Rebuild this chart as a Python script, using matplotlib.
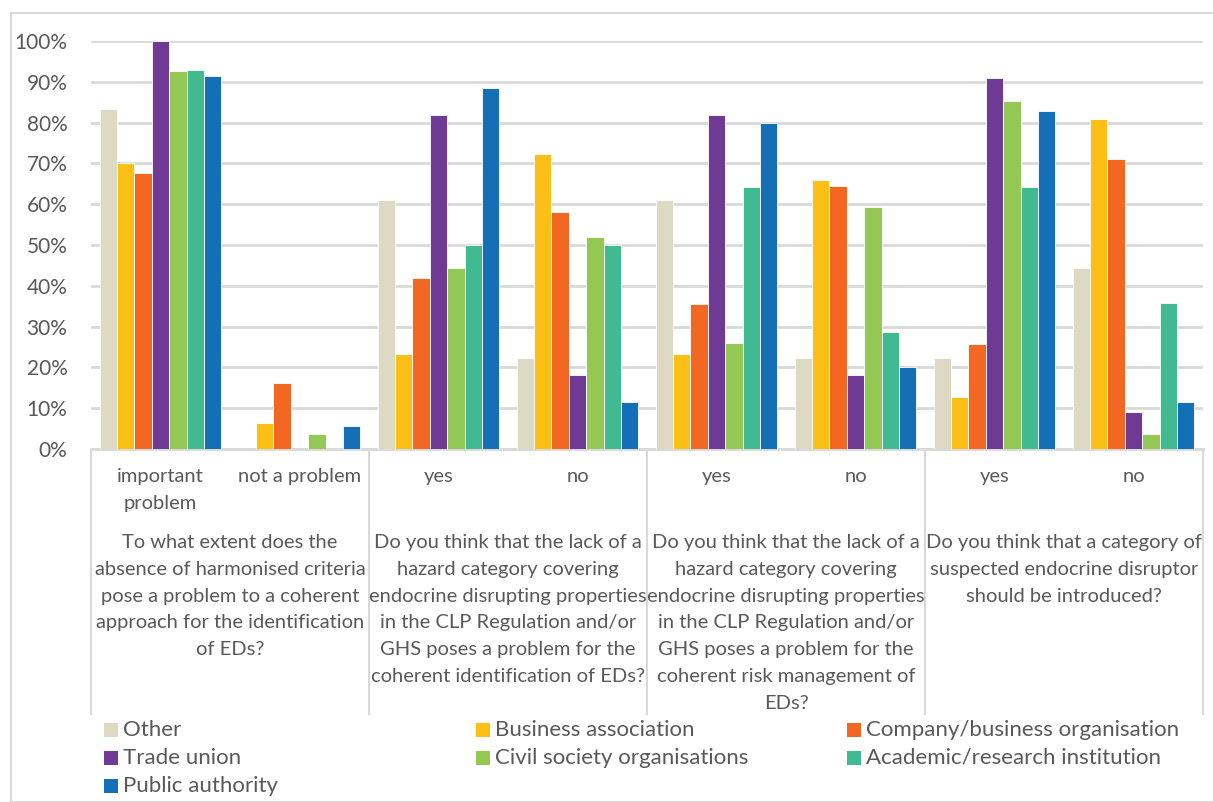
import matplotlib
matplotlib.use("Agg")
import matplotlib.pyplot as plt
import matplotlib.transforms as mtransforms
from matplotlib.patches import Rectangle
from matplotlib.lines import Line2D
import numpy as np

plt.rcParams['font.family'] = ['Lato', 'DejaVu Sans']

# Respondent groups (series)
series = ["Other", "Business association", "Company/business organisation",
          "Trade union", "Civil society organisations",
          "Academic/research institution", "Public authority"]
colors = ["#DDD9C3", "#FBBF16", "#F26722", "#6F3A93", "#92C853", "#41BA91", "#156FB7"]

# Answer options (x categories)
answers = ["important\nproblem", "not a problem", "yes", "no", "yes", "no", "yes", "no"]

# Questions, each spanning two answers
questions = [
    "To what extent does the\nabsence of harmonised criteria\npose a problem to a coherent\napproach for the identification\nof EDs?",
    "Do you think that the lack of a\nhazard category covering\nendocrine disrupting properties\nin the CLP Regulation and/or\nGHS poses a problem for the\ncoherent identification of EDs?",
    "Do you think that the lack of a\nhazard category covering\nendocrine disrupting properties\nin the CLP Regulation and/or\nGHS poses a problem for the\ncoherent risk management of\nEDs?",
    "Do you think that a category of\nsuspected endocrine disruptor\nshould be introduced?",
]

# Share of respondents per answer, one list per series
other    = [0.833, 0.0,   0.611, 0.222, 0.611, 0.222, 0.222, 0.444]
business = [0.702, 0.064, 0.234, 0.723, 0.234, 0.660, 0.128, 0.809]
company  = [0.677, 0.161, 0.419, 0.581, 0.355, 0.645, 0.258, 0.710]
trade    = [1.000, 0.0,   0.818, 0.182, 0.818, 0.182, 0.909, 0.091]
civil    = [0.926, 0.037, 0.444, 0.519, 0.259, 0.593, 0.852, 0.037]
academic = [0.929, 0.0,   0.500, 0.500, 0.643, 0.286, 0.643, 0.357]
public   = [0.914, 0.057, 0.886, 0.114, 0.800, 0.200, 0.829, 0.114]
values = [other, business, company, trade, civil, academic, public]

W, H = 1213, 802
fig = plt.figure(figsize=(W / 100, H / 100), dpi=100)

def px(x0, y0, x1, y1):
    return [x0 / W, 1 - y1 / H, (x1 - x0) / W, (y1 - y0) / H]

AX_TOP, AX_BOT = 41, 449
ax = fig.add_axes(px(91, AX_TOP, 1203, AX_BOT))

def below(ypix):
    """Axes-fraction y for a pixel row below the plot area."""
    return -(ypix - AX_BOT) / (AX_BOT - AX_TOP)

text_color = "#595959"
grid_color = "#D9D9D9"
fs = 14.5
ls = 1.7

n = len(series)
x = np.arange(len(answers))
bw = 0.873 / n
for i, (name, vals, c) in enumerate(zip(series, values, colors)):
    offs = (i - (n - 1) / 2) * bw
    ax.bar(x + offs, vals, width=bw, color=c, edgecolor="white", linewidth=0.6,
           label=name, zorder=3)

ax.set_xlim(-0.5, len(answers) - 0.5)
ax.set_ylim(0, 1.0)
yt = np.arange(0, 1.01, 0.1)
ax.set_yticks(yt)
ax.set_yticklabels([f"{int(round(v * 100))}%" for v in yt],
                   fontsize=15, color=text_color)
ax.tick_params(axis="y", length=0, pad=17)
ax.set_xticks([])
ax.grid(axis="y", color=grid_color, linewidth=2, zorder=0)
ax.set_axisbelow(True)
for s in ax.spines.values():
    s.set_visible(False)

# category axis baseline and question separators
ax.axhline(0, color=grid_color, linewidth=2, zorder=2, clip_on=False)
trans = mtransforms.blended_transform_factory(ax.transData, ax.transAxes)
for b in np.arange(-0.5, len(answers), 2):
    ax.add_line(Line2D([b, b], [0, below(714)], transform=trans, color=grid_color,
                       linewidth=1.5, clip_on=False))

# answer labels
for xi, lab in zip(x, answers):
    ax.text(xi, below(468), lab, transform=trans, ha="center", va="top",
            fontsize=fs, color=text_color, linespacing=ls, clip_on=False)

# question labels
for qi, q in enumerate(questions):
    ax.text(2 * qi + 0.5, below(534), q, transform=trans, ha="center", va="top",
            fontsize=fs, color=text_color, linespacing=ls, clip_on=False)

# legend, three columns filled row by row
col_x = [104, 476, 847]
row_y = [730, 758, 786]
for i, (name, c) in enumerate(zip(series, colors)):
    cx = col_x[i % 3]
    cy = row_y[i // 3]
    fig.patches.append(Rectangle((cx / W, 1 - (cy + 7) / H), 13.5 / W, 14 / H,
                                 transform=fig.transFigure, facecolor=c,
                                 edgecolor="none"))
    fig.text((cx + 19) / W, 1 - cy / H, name, ha="left", va="center",
             fontsize=16, color=text_color)

# chart frame
fig.patches.append(Rectangle((11 / W, 0), 1.2, 1 - 12.7 / H,
                             transform=fig.transFigure, facecolor="none",
                             edgecolor=grid_color, linewidth=1.5))

fig.savefig("out.png", dpi=100)
